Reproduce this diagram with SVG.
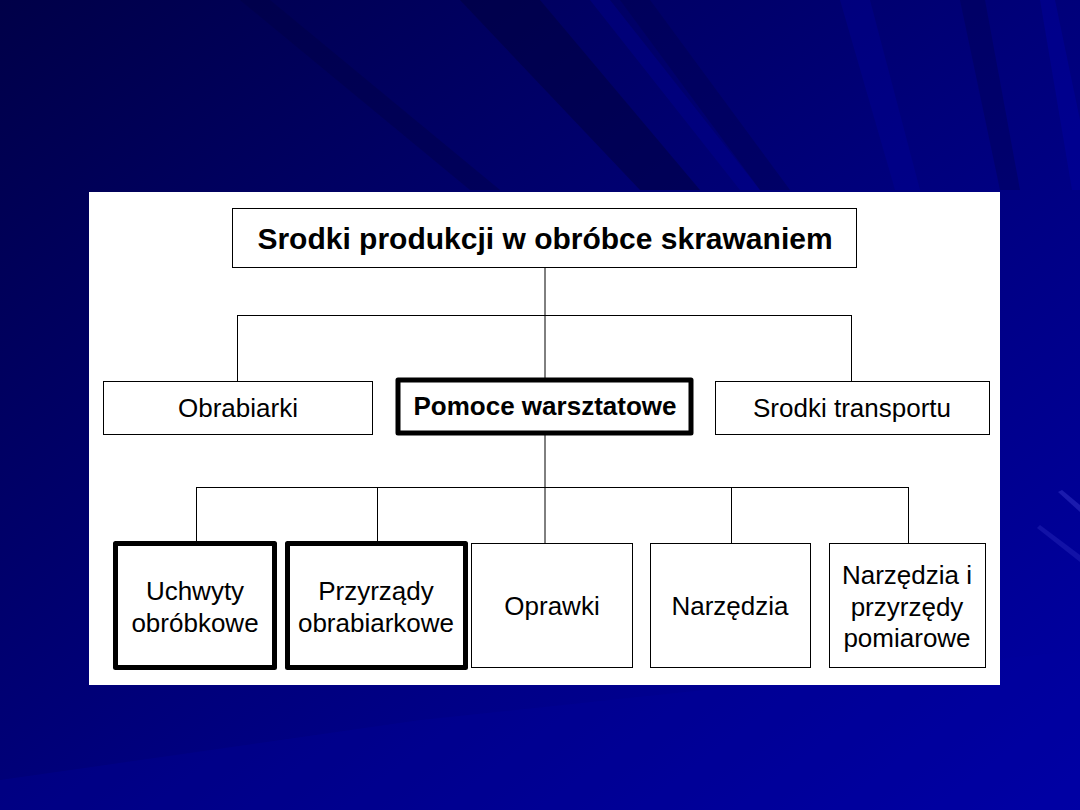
<svg xmlns="http://www.w3.org/2000/svg" width="1080" height="810" viewBox="0 0 1080 810">
<defs>
<linearGradient id="bg" x1="0" y1="0" x2="1" y2="1">
<stop offset="0" stop-color="#000048"/>
<stop offset="0.5" stop-color="#00007a"/>
<stop offset="1" stop-color="#0000a6"/>
</linearGradient>
<style>
.box{fill:#fff;stroke:#000;stroke-width:1}
.thick{fill:#fff;stroke:#000;stroke-width:5;stroke-linejoin:round}
.t{font-family:"Liberation Sans",Arial,sans-serif;font-size:26px;fill:#000;text-anchor:middle}
.b{font-weight:bold}
.c line{stroke:#000;stroke-width:1}
</style>
</defs>
<rect width="1080" height="810" fill="url(#bg)"/>
<g id="streaks">
<polygon points="240,0 270,0 500,190 470,190" fill="#000040" opacity="0.35"/>
<polygon points="460,0 540,0 700,190 640,190" fill="#000038" opacity="0.45"/>
<polygon points="590,0 610,0 760,190 740,190" fill="#0000a0" opacity="0.3"/>
<polygon points="620,0 650,0 790,190 760,190" fill="#000048" opacity="0.35"/>
<polygon points="840,0 870,0 920,190 895,190" fill="#0000a0" opacity="0.3"/>
<polygon points="960,0 985,0 1020,190 1000,190" fill="#00004a" opacity="0.35"/>
<polygon points="1040,0 1055,0 1080,120 1080,190 1072,190" fill="#0000b0" opacity="0.3"/>
<polygon points="1062,490 1080,505 1080,512 1058,492" fill="#5a5ae8" opacity="0.3"/>
<polygon points="1040,525 1080,555 1080,562 1037,528" fill="#5a5ae8" opacity="0.2"/>
<polygon points="0,780 420,720 1080,650 1080,810 0,810" fill="#0000a0" opacity="0.25"/>
</g>
<rect x="89" y="192" width="911" height="493" fill="#fff"/>
<g id="connectors" class="c">
<line x1="545" y1="268" x2="545" y2="380"/>
<line x1="237" y1="315.5" x2="851" y2="315.5"/>
<line x1="237.5" y1="315" x2="237.5" y2="381"/>
<line x1="851.5" y1="315" x2="851.5" y2="381"/>
<line x1="545" y1="435" x2="545" y2="543"/>
<line x1="196" y1="487.5" x2="908" y2="487.5"/>
<line x1="196.5" y1="487" x2="196.5" y2="541"/>
<line x1="377.5" y1="487" x2="377.5" y2="541"/>
<line x1="731.5" y1="487" x2="731.5" y2="543"/>
<line x1="908.5" y1="487" x2="908.5" y2="543"/>
</g>
<g id="root">
<rect class="box" x="232.5" y="208.5" width="624" height="59"/>
<text class="t b" x="545" y="249" style="font-size:30px">Srodki produkcji w obróbce skrawaniem</text>
</g>
<g id="obrabiarki">
<rect class="box" x="103.5" y="381.5" width="269" height="53"/>
<text class="t" x="238" y="417">Obrabiarki</text>
</g>
<g id="pomoce">
<rect class="thick" x="398" y="380" width="293" height="53"/>
<text class="t b" x="545" y="415">Pomoce warsztatowe</text>
</g>
<g id="transport">
<rect class="box" x="715.5" y="381.5" width="274" height="53"/>
<text class="t" x="852" y="417">Srodki transportu</text>
</g>
<g id="uchwyty">
<rect class="thick" x="115.5" y="543.5" width="159" height="124"/>
<text class="t" x="195" y="600">Uchwyty</text>
<text class="t" x="195" y="632">obróbkowe</text>
</g>
<g id="przyrzady">
<rect class="thick" x="287.5" y="543.5" width="178" height="124"/>
<text class="t" x="376" y="600">Przyrządy</text>
<text class="t" x="376" y="632">obrabiarkowe</text>
</g>
<g id="oprawki">
<rect class="box" x="471.5" y="543.5" width="161" height="124"/>
<text class="t" x="552" y="615">Oprawki</text>
</g>
<g id="narzedzia">
<rect class="box" x="650.5" y="543.5" width="160" height="124"/>
<text class="t" x="730" y="615">Narzędzia</text>
</g>
<g id="pomiarowe">
<rect class="box" x="829.5" y="543.5" width="156" height="124"/>
<text class="t" x="907" y="584">Narzędzia i</text>
<text class="t" x="907" y="616">przyrzędy</text>
<text class="t" x="907" y="647">pomiarowe</text>
</g>
</svg>
